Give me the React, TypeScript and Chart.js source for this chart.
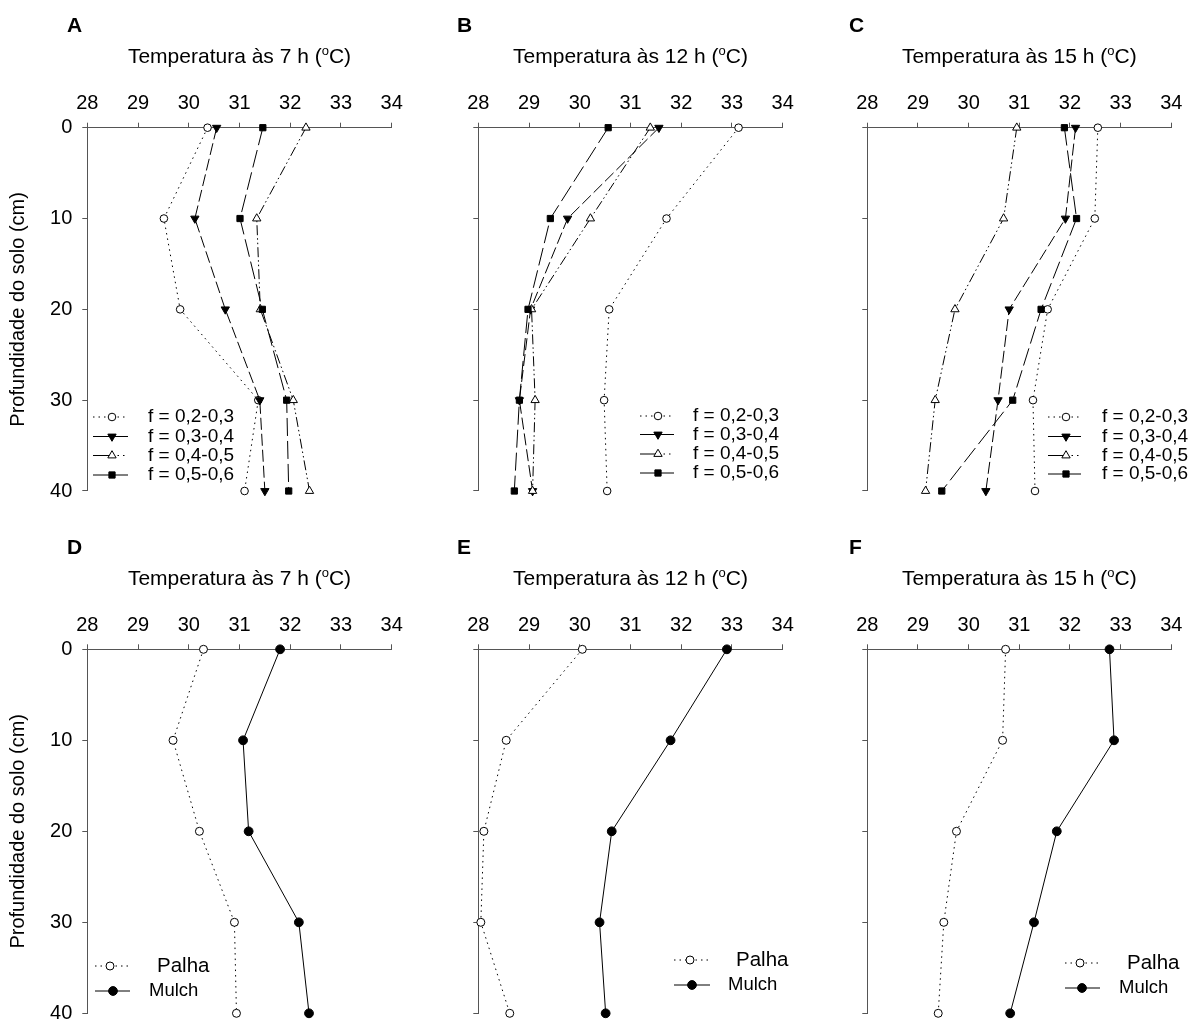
import React, { useEffect, useRef } from 'react';
import { Chart, registerables } from 'chart.js';

Chart.register(...registerables);

const FAM = "'Liberation Sans', Arial, Helvetica, sans-serif";
Chart.defaults.font.family = FAM;

// ---------- data ----------
const depths = [0, 10, 20, 30, 40];
const tempTicks = [28, 29, 30, 31, 32, 33, 34];
const depthTicks = [0, 10, 20, 30, 40];
const hours = ['7', '12', '15'];
const panelLetters = ['A', 'B', 'C', 'D', 'E', 'F'];
const fLabels = ['f = 0,2-0,3', 'f = 0,3-0,4', 'f = 0,4-0,5', 'f = 0,5-0,6'];
const coverLabels = ['Palha', 'Mulch'];
const yAxisTitle = 'Profundidade do solo (cm)';

// A: 7 h
const aF23 = [30.37, 29.51, 29.83, 31.37, 31.10];
const aF34 = [30.55, 30.12, 30.72, 31.40, 31.50];
const aF45 = [32.31, 31.34, 31.41, 32.06, 32.38];
const aF56 = [31.46, 31.01, 31.45, 31.93, 31.97];
// B: 12 h
const bF23 = [33.13, 31.71, 30.58, 30.48, 30.54];
const bF34 = [31.56, 29.76, 29.03, 28.81, 29.07];
const bF45 = [31.39, 30.21, 29.05, 29.12, 29.07];
const bF56 = [30.56, 29.42, 28.98, 28.81, 28.71];
// C: 15 h
const cF23 = [32.55, 32.49, 31.56, 31.27, 31.31];
const cF34 = [32.11, 31.91, 30.80, 30.58, 30.34];
const cF45 = [30.95, 30.69, 29.73, 29.34, 29.15];
const cF56 = [31.89, 32.13, 31.43, 30.87, 29.47];
// D: 7 h
const dPalha = [30.29, 29.69, 30.21, 30.90, 30.94];
const dMulch = [31.80, 31.07, 31.18, 32.17, 32.37];
// E: 12 h
const ePalha = [30.05, 28.55, 28.11, 28.05, 28.62];
const eMulch = [32.90, 31.79, 30.63, 30.39, 30.51];
// F: 15 h
const fPalha = [30.73, 30.67, 29.76, 29.51, 29.40];
const fMulch = [32.78, 32.87, 31.74, 31.29, 30.82];

// ---------- styles ----------
type StyleKey = 'f23' | 'f34' | 'f45' | 'f56' | 'palha' | 'mulch';
const STYLES: Record<StyleKey, any> = {
  f23: { dash: [1.5, 4], point: 'circle', rotation: 0, radius: 3.8, fill: '#fff', legL: [1.5, 4], legR: [1.5, 4], order: 3 },
  f34: { dash: [12, 4], point: 'triangle', rotation: 180, radius: 4.8, fill: '#000', legL: [], legR: [], order: 2 },
  f45: { dash: [10, 3, 1.5, 3, 1.5, 3], point: 'triangle', rotation: 0, radius: 4.8, fill: '#fff', legL: [], legR: [1.5, 4], order: 1 },
  f56: { dash: [18, 5], point: 'rect', rotation: 0, radius: 4.4, fill: '#000', legL: [], legR: [], order: 0 },
  palha: { dash: [1.5, 4], point: 'circle', rotation: 0, radius: 4, fill: '#fff', legL: [1.5, 4], legR: [1.5, 4], order: 1 },
  mulch: { dash: [], point: 'circle', rotation: 0, radius: 4.4, fill: '#000', legL: [], legR: [], order: 0 },
};

// ---------- layout ----------
const colLeft = [87.3, 478.3, 867.3];
const colRight = [391.7, 782.7, 1171.3];
const rowTop = [127.7, 649.3];
const rowBottom = [491, 1013.3];
const letterX = [67, 457, 849];
const letterY = [31.7, 554];
const titleBase = [63, 584.6];
const Y_AXIS_W = 50;
const X_AXIS_H = 45;

type Series = { label: string; values: number[]; style: StyleKey };
type PanelCfg = {
  letter: string; hour: string; col: number; row: number; series: Series[];
  legend: { x1: number; x2: number; mx: number[]; tx: number[]; ys: number[]; fonts: number[] };
};

const fSeries = (v: number[][]): Series[] =>
  (['f23', 'f34', 'f45', 'f56'] as StyleKey[]).map((s, i) => ({ label: fLabels[i], values: v[i], style: s }));
const cSeries = (p: number[], m: number[]): Series[] => [
  { label: coverLabels[0], values: p, style: 'palha' },
  { label: coverLabels[1], values: m, style: 'mulch' },
];

const PANELS: PanelCfg[] = [
  { letter: panelLetters[0], hour: hours[0], col: 0, row: 0, series: fSeries([aF23, aF34, aF45, aF56]),
    legend: { x1: 93, x2: 128, mx: [112, 112, 112, 112], tx: [148, 148, 148, 148], ys: [417, 436.5, 455.5, 475], fonts: [19, 19, 19, 19] } },
  { letter: panelLetters[1], hour: hours[1], col: 1, row: 0, series: fSeries([bF23, bF34, bF45, bF56]),
    legend: { x1: 640, x2: 674, mx: [658, 658, 658, 658], tx: [693, 693, 693, 693], ys: [416, 434.5, 454, 473], fonts: [19, 19, 19, 19] } },
  { letter: panelLetters[2], hour: hours[2], col: 2, row: 0, series: fSeries([cF23, cF34, cF45, cF56]),
    legend: { x1: 1048, x2: 1081, mx: [1066, 1066, 1066, 1066], tx: [1102, 1102, 1102, 1102], ys: [417, 436.5, 455.5, 474], fonts: [19, 19, 19, 19] } },
  { letter: panelLetters[3], hour: hours[0], col: 0, row: 1, series: cSeries(dPalha, dMulch),
    legend: { x1: 95, x2: 130, mx: [110, 113], tx: [157, 149], ys: [966, 991], fonts: [20.5, 18.5] } },
  { letter: panelLetters[4], hour: hours[1], col: 1, row: 1, series: cSeries(ePalha, eMulch),
    legend: { x1: 674, x2: 710, mx: [690, 692], tx: [736, 728], ys: [960, 985], fonts: [20.5, 18.5] } },
  { letter: panelLetters[5], hour: hours[2], col: 2, row: 1, series: cSeries(fPalha, fMulch),
    legend: { x1: 1065, x2: 1100, mx: [1080, 1082], tx: [1127, 1119], ys: [963, 988], fonts: [20.5, 18.5] } },
];

function drawMarker(ctx: CanvasRenderingContext2D, style: string, rotation: number, r: number, fill: string, x: number, y: number) {
  ctx.save();
  ctx.fillStyle = fill;
  ctx.strokeStyle = '#000';
  ctx.lineWidth = 1;
  ctx.setLineDash([]);
  ctx.beginPath();
  if (style === 'circle') {
    ctx.arc(x, y, r, 0, Math.PI * 2);
  } else if (style === 'triangle') {
    let rad = (rotation * Math.PI) / 180;
    ctx.moveTo(x + Math.sin(rad) * r, y - Math.cos(rad) * r);
    rad += (2 * Math.PI) / 3;
    ctx.lineTo(x + Math.sin(rad) * r, y - Math.cos(rad) * r);
    rad += (2 * Math.PI) / 3;
    ctx.lineTo(x + Math.sin(rad) * r, y - Math.cos(rad) * r);
    ctx.closePath();
  } else {
    const s = Math.SQRT1_2 * r;
    ctx.rect(x - s, y - s, 2 * s, 2 * s);
  }
  ctx.fill();
  ctx.stroke();
  ctx.restore();
}

const decorPlugin = {
  id: 'panelDecor',
  afterDraw(chart: any, _args: any, opts: any) {
    const ctx: CanvasRenderingContext2D = chart.ctx;
    const area = chart.chartArea;
    ctx.save();
    ctx.fillStyle = '#000';
    // panel letter
    ctx.font = `bold 21px ${FAM}`;
    ctx.textAlign = 'left';
    ctx.textBaseline = 'alphabetic';
    ctx.fillText(opts.letter, opts.letterX, opts.letterY);
    // title with superscript
    const main = `Temperatura às ${opts.hour} h (`;
    const big = `21px ${FAM}`;
    const small = `13px ${FAM}`;
    ctx.font = big;
    const w1 = ctx.measureText(main).width;
    const w3 = ctx.measureText('C)').width;
    ctx.font = small;
    const w2 = ctx.measureText('o').width;
    let x = (area.left + area.right) / 2 - (w1 + w2 + w3) / 2;
    const yb = opts.titleY;
    ctx.font = big;
    ctx.fillText(main, x, yb);
    x += w1;
    ctx.font = small;
    ctx.fillText('o', x, yb - 8);
    x += w2;
    ctx.font = big;
    ctx.fillText('C)', x, yb);
    // y title
    if (opts.yTitle) {
      ctx.save();
      ctx.translate(18, (area.top + area.bottom) / 2);
      ctx.rotate(-Math.PI / 2);
      ctx.font = `20px ${FAM}`;
      ctx.textAlign = 'center';
      ctx.textBaseline = 'middle';
      ctx.fillText(opts.yTitle, 0, 0);
      ctx.restore();
    }
    // legend
    const lg = opts.legend;
    chart.data.datasets.forEach((ds: any, i: number) => {
      const y = lg.ys[i];
      const st = STYLES[ds.styleKey as StyleKey];
      const mid = lg.mx[i];
      ctx.save();
      ctx.strokeStyle = '#000';
      ctx.lineWidth = 1;
      ctx.setLineDash(st.legL);
      ctx.beginPath();
      ctx.moveTo(lg.x1, y);
      ctx.lineTo(mid, y);
      ctx.stroke();
      ctx.setLineDash(st.legR);
      ctx.beginPath();
      ctx.moveTo(mid, y);
      ctx.lineTo(lg.x2, y);
      ctx.stroke();
      ctx.restore();
      drawMarker(ctx, st.point, st.rotation, st.radius, st.fill, mid, y);
      ctx.fillStyle = '#000';
      ctx.font = `${lg.fonts[i]}px ${FAM}`;
      ctx.textAlign = 'left';
      ctx.textBaseline = 'middle';
      ctx.fillText(ds.label, lg.tx[i], y);
    });
    ctx.restore();
  },
};

function buildConfig(p: PanelCfg): any {
  const showY = p.col === 0;
  const plotL = colLeft[p.col];
  const plotR = colRight[p.col];
  const plotT = rowTop[p.row];
  const plotB = rowBottom[p.row];
  const datasets = p.series.map((s) => {
    const st = STYLES[s.style];
    return {
      label: s.label,
      styleKey: s.style,
      data: s.values.map((v, i) => ({ x: v, y: depths[i] })),
      showLine: true,
      borderColor: '#000',
      borderWidth: 1,
      borderDash: st.dash,
      pointStyle: st.point,
      rotation: st.rotation,
      pointRadius: st.radius,
      pointHoverRadius: st.radius,
      pointBackgroundColor: st.fill,
      pointBorderColor: '#000',
      pointBorderWidth: 1,
      clip: false,
      order: st.order,
      tension: 0,
    };
  });
  const axisColor = '#555';
  return {
    type: 'scatter',
    data: { datasets },
    plugins: [decorPlugin],
    options: {
      animation: false,
      responsive: false,
      maintainAspectRatio: false,
      events: [],
      layout: {
        padding: {
          left: plotL - Y_AXIS_W,
          top: plotT - X_AXIS_H,
          right: 1199 - plotR,
          bottom: 1021 - plotB,
        },
      },
      plugins: {
        legend: { display: false },
        tooltip: { enabled: false },
        title: { display: false },
        panelDecor: {
          letter: p.letter,
          letterX: letterX[p.col],
          letterY: letterY[p.row],
          hour: p.hour,
          titleY: titleBase[p.row],
          yTitle: showY ? yAxisTitle : '',
          legend: p.legend,
        },
      },
      scales: {
        x: {
          type: 'linear',
          position: 'top',
          min: tempTicks[0],
          max: tempTicks[tempTicks.length - 1],
          afterBuildTicks: (scale: any) => { scale.ticks = tempTicks.map((v) => ({ value: v })); },
          afterFit: (scale: any) => {
            scale.height = X_AXIS_H;
            scale.paddingLeft = 0; scale.paddingRight = 0; scale.paddingTop = 0; scale.paddingBottom = 0;
          },
          ticks: { color: '#000', font: { size: 20, family: FAM }, padding: 7, maxRotation: 0, autoSkip: false },
          grid: { drawOnChartArea: false, drawTicks: true, tickLength: 5, color: axisColor, lineWidth: 1 },
          border: { display: true, color: axisColor, width: 1 },
        },
        y: {
          type: 'linear',
          position: 'left',
          reverse: true,
          min: depthTicks[0],
          max: depthTicks[depthTicks.length - 1],
          afterBuildTicks: (scale: any) => { scale.ticks = depthTicks.map((v) => ({ value: v })); },
          afterFit: (scale: any) => {
            scale.width = Y_AXIS_W;
            scale.paddingLeft = 0; scale.paddingRight = 0; scale.paddingTop = 0; scale.paddingBottom = 0;
          },
          ticks: { display: showY, color: '#000', font: { size: 20, family: FAM }, padding: 10, autoSkip: false },
          grid: { drawOnChartArea: false, drawTicks: true, tickLength: 5, color: axisColor, lineWidth: 1 },
          border: { display: true, color: axisColor, width: 1 },
        },
      },
    },
  };
}

function Panel({ cfg }: { cfg: PanelCfg }) {
  const ref = useRef<HTMLCanvasElement>(null);
  useEffect(() => {
    if (!ref.current) return;
    const chart = new Chart(ref.current, buildConfig(cfg));
    return () => chart.destroy();
  }, [cfg]);
  return (
    <canvas
      ref={ref}
      width={1199}
      height={1021}
      style={{ position: 'absolute', left: 0, top: 0, width: 1199, height: 1021 }}
    />
  );
}

export default function App() {
  return (
    <div style={{ position: 'absolute', left: 0, top: 0, width: 1199, height: 1021, background: '#fff', overflow: 'hidden' }}>
      {PANELS.map((p) => (
        <Panel key={p.letter} cfg={p} />
      ))}
    </div>
  );
}
